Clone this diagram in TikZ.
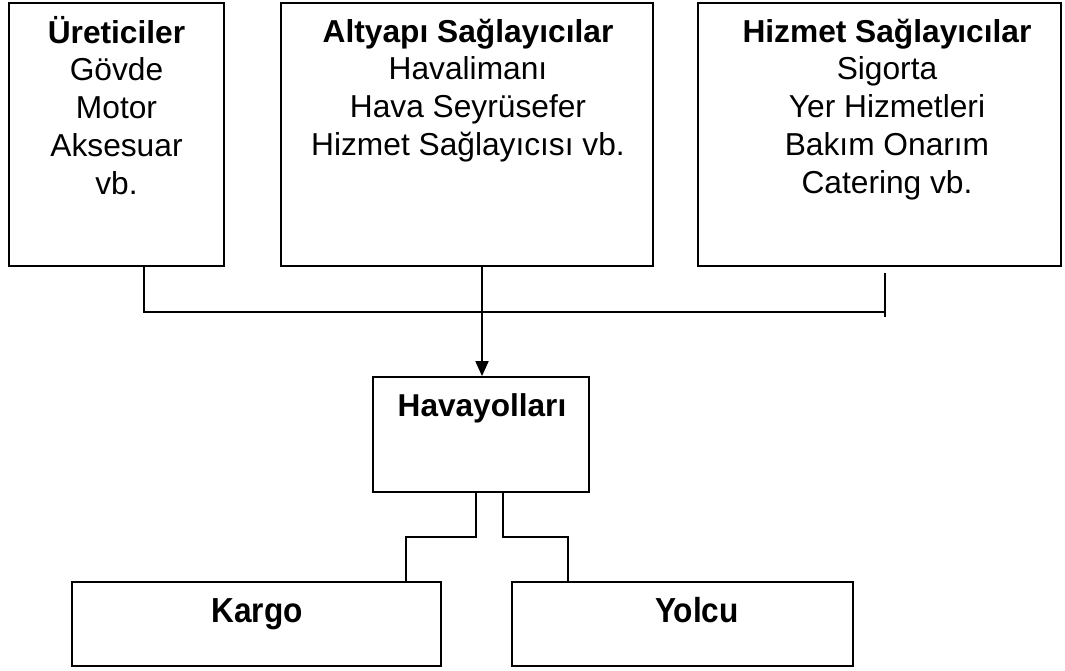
\documentclass[tikz,border=0pt]{standalone}
\usepackage{fontspec}
\setmainfont{Liberation Sans}
\usetikzlibrary{arrows.meta}
\newcommand\firstline{\rule{0pt}{30pt}}
\newcommand\tallword[1]{\scalebox{1}[1.1]{#1}}
\begin{document}
\begin{tikzpicture}[x=1pt,y=-1pt,
  boxsty/.style={draw=black, line width=1.8pt, rectangle, inner sep=0pt},
  listtxt/.style={anchor=north, align=center, inner sep=0pt,
    font=\fontsize{31.7}{37.7}\selectfont},
  headtxt/.style={anchor=base, inner sep=0pt,
    font=\fontsize{31.6}{37.7}\selectfont\bfseries},
  wire/.style={draw=black, line width=1.8pt},
  arrowwire/.style={wire, -{Triangle[length=15pt,width=13pt]}}]
\useasboundingbox (0,0) rectangle (1065,670);

% supplier boxes
\node[boxsty, minimum width=215, minimum height=263] (ure) at (116.5,134.5) {};
\node[boxsty, minimum width=372, minimum height=263] (alt) at (467,134.5) {};
\node[boxsty, minimum width=363, minimum height=263] (hiz) at (879.5,134.5) {};

\node[listtxt] (uretxt) at (116.5,13) {\firstline\textbf{Üreticiler}\\Gövde\\Motor\\Aksesuar\\vb.};
\node[listtxt] (alttxt) at (468,12) {\firstline\textbf{Altyapı Sağlayıcılar}\\Havalimanı\\Hava Seyrüsefer\\Hizmet Sağlayıcısı vb.};
\node[listtxt] (hiztxt) at (887,12) {\firstline\textbf{Hizmet Sağlayıcılar}\\Sigorta\\Yer Hizmetleri\\Bakım Onarım\\Catering vb.};

% airline and its segments
\node[boxsty, minimum width=216, minimum height=115] (hava) at (481,434.5) {};
\node[headtxt] (havatxt) at (482,416) {Havayolları};

\node[boxsty, minimum width=369, minimum height=84] (kargo) at (256.5,624) {};
\node[headtxt] (kargotxt) at (257,622) {\tallword{Kargo}};
\node[boxsty, minimum width=341, minimum height=84] (yolcu) at (682.5,624) {};
\node[headtxt] (yolcutxt) at (697,622) {\tallword{Yolcu}};

% bus joining the suppliers
\coordinate (busL) at (144,312);
\coordinate (busR) at (885,312);
\coordinate (tickT) at (885,273);
\coordinate (tickB) at (885,317);
\coordinate (arrowx) at (482,0);
\draw[wire] (ure.south -| busL) -- (busL) -- (busR);
\draw[wire] (tickT) -- (tickB);
\draw[arrowwire] (alt.south -| arrowx) -- (hava.north -| arrowx);

% branches to cargo and passenger
\coordinate (kL1) at (476,537);
\coordinate (kL2) at (406,537);
\coordinate (yR1) at (503,537);
\coordinate (yR2) at (568,537);
\draw[wire] (hava.south -| kL1) -- (kL1) -- (kL2) -- (kargo.north -| kL2);
\draw[wire] (hava.south -| yR1) -- (yR1) -- (yR2) -- (yolcu.north -| yR2);
\end{tikzpicture}
\end{document}
